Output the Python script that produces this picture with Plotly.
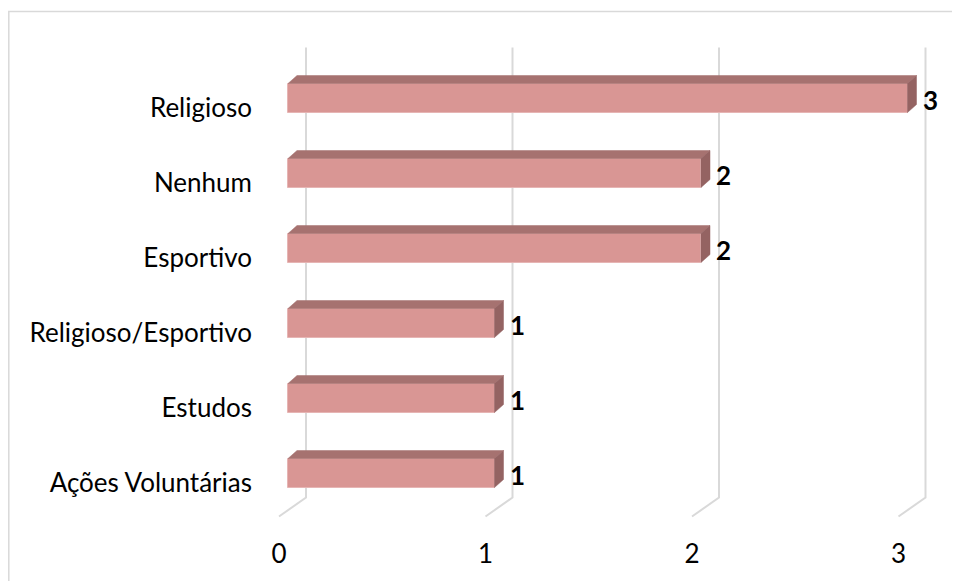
import plotly.graph_objects as go

categories = ["Religioso", "Nenhum", "Esportivo", "Religioso/Esportivo", "Estudos", "Ações Voluntárias"]
values = [3, 2, 2, 1, 1, 1]
x_ticks = [0, 1, 2, 3]
x_tick_labels = ["0", "1", "2", "3"]

# geometry (in data units)
PXU_X = 206.5   # px per x unit
PXU_Y = 75.0    # px per category
bar_w = 29 / PXU_Y
dx = 9 / PXU_X
dy = 8 / PXU_Y
back_off = 18 / PXU_X
floor_front = -9 / PXU_X
grid_top = 5.673
grid_knee = -0.327
grid_front = -0.58

FRONT = "#D99694"
TOP = "#A67270"
SIDE = "#946362"
GRID = "#D9D9D9"

n = len(categories)
ypos = [n - 1 - i for i in range(n)]

fig = go.Figure()

# gridlines (3D walls/floor) as shapes below the bars
for v in x_ticks:
    xb = v + back_off
    xf = v + floor_front
    fig.add_shape(type="path", xref="x", yref="y", layer="below",
                  path=f"M {xb} {grid_top} L {xb} {grid_knee} L {xf} {grid_front}",
                  line=dict(color=GRID, width=2))

# front faces
fig.add_trace(go.Bar(
    y=ypos, x=values, orientation="h", width=bar_w,
    marker=dict(color=FRONT, line=dict(color="#E6B5B4", width=1)),
    hoverinfo="skip", showlegend=False))

# top and side faces
for y, v in zip(ypos, values):
    t = y + bar_w / 2
    b = y - bar_w / 2
    fig.add_trace(go.Scatter(
        x=[0, dx, v + dx, v, 0], y=[t, t + dy, t + dy, t, t],
        mode="lines", fill="toself", fillcolor=TOP,
        line=dict(color=TOP, width=0.5), hoverinfo="skip", showlegend=False))
    fig.add_trace(go.Scatter(
        x=[v, v + dx, v + dx, v, v], y=[t, t + dy, b + dy, b, t],
        mode="lines", fill="toself", fillcolor=SIDE,
        line=dict(color=SIDE, width=0.5), hoverinfo="skip", showlegend=False))

# value labels
for y, v in zip(ypos, values):
    fig.add_annotation(x=v, y=y, text="<b>%d</b>" % v, showarrow=False,
                       xanchor="left", xshift=13, yshift=-2,
                       font=dict(family="Lato", size=26, color="black"))

# figure is placed at (8,8) in the page by the default body margin
FW, FH = 952, 573
L, R, T, B = 262, 10, 32, 61
W = FW - L - R
H = FH - T - B
x0 = -18 / PXU_X
x1 = x0 + W / PXU_X
y1 = 5 + (98 - 40) / PXU_Y
y0 = y1 - H / PXU_Y

# outer chart border (page coords minus 8)
fig.add_shape(type="rect", xref="paper", yref="paper",
              x0=(0.8 - L) / W, x1=(990 - L) / W,
              y0=-200 / H, y1=(H - (3.5 - T)) / H,
              line=dict(color=GRID, width=1.5), fillcolor="rgba(0,0,0,0)", layer="below")

fig.update_layout(
    width=FW, height=FH,
    margin=dict(l=L, r=R, t=T, b=B, autoexpand=False),
    paper_bgcolor="white", plot_bgcolor="white",
    bargap=0,
    xaxis=dict(range=[x0, x1], tickvals=[v + floor_front for v in x_ticks],
               ticktext=x_tick_labels, showgrid=False, zeroline=False, showline=False,
               ticks="", ticklabelstandoff=16,
               tickfont=dict(family="Lato", size=26, color="black")),
    yaxis=dict(range=[y0, y1], tickvals=[y - 10 / PXU_Y for y in ypos],
               ticktext=categories, showgrid=False, zeroline=False, showline=False,
               ticks="", ticklabelstandoff=17,
               tickfont=dict(family="Lato", size=26, color="black")),
    font=dict(family="Lato"),
)

fig.write_html("out.html")
